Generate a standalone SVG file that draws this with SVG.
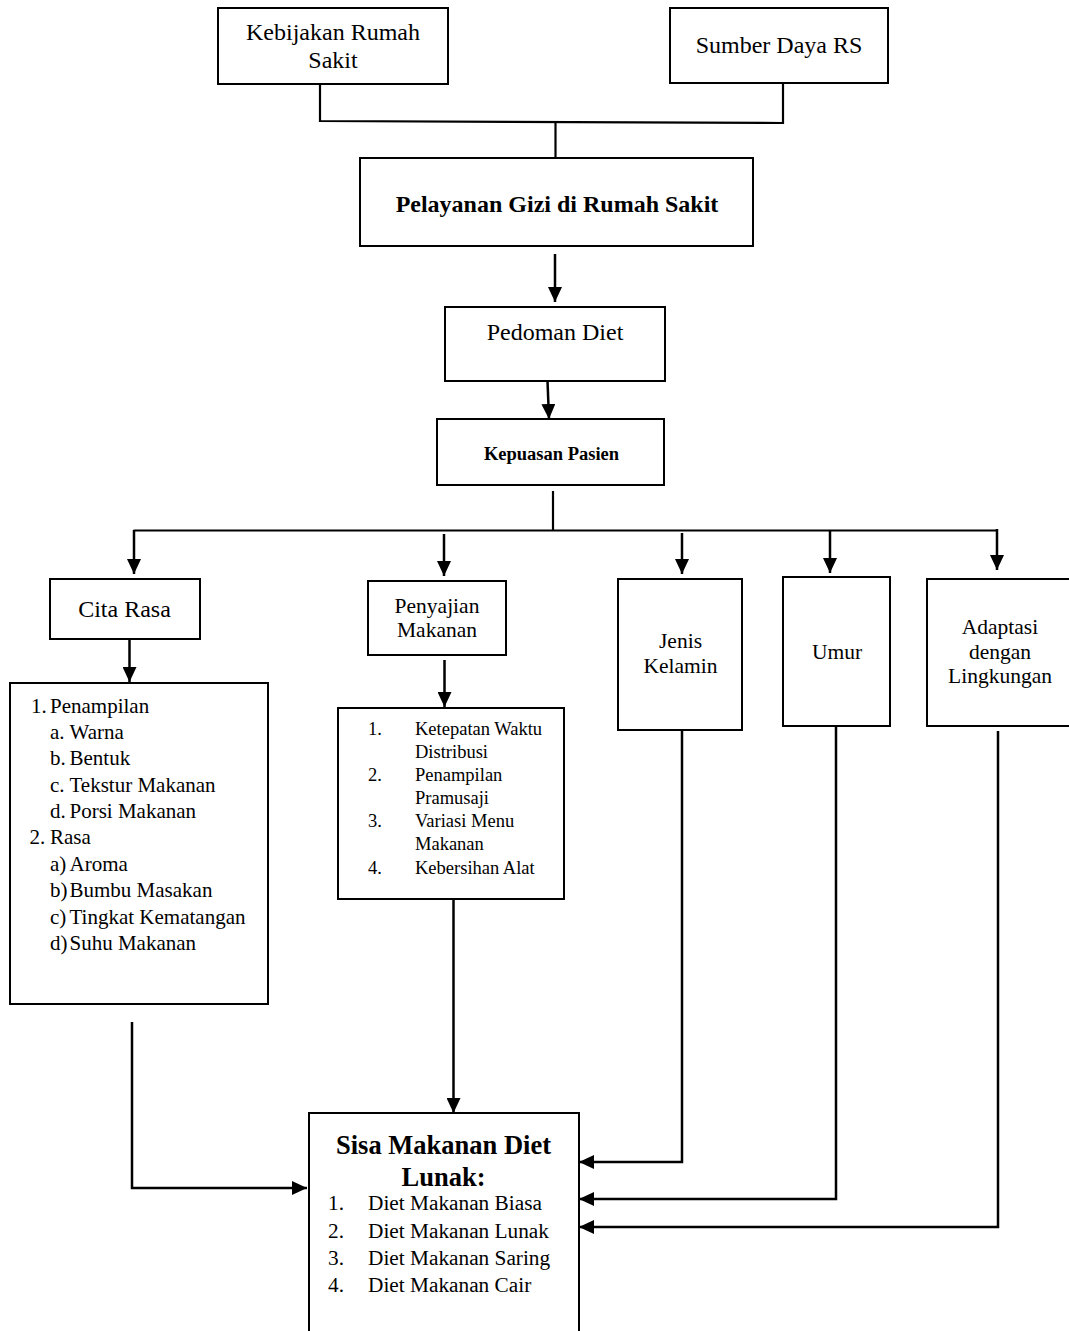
<svg xmlns="http://www.w3.org/2000/svg" width="1069" height="1331" viewBox="0 0 1069 1331">
<defs>
<style>
.box{fill:#fff;stroke:#000;stroke-width:2}
.ln{fill:none;stroke:#000;stroke-width:2.2}
.ar{fill:none;stroke:#000;stroke-width:2.5;marker-end:url(#ah)}
text{font-family:"Liberation Serif","Times New Roman",serif;fill:#000}
.c{text-anchor:middle}
.b{font-weight:bold}
</style>
<marker id="ah" viewBox="0 0 15 14" refX="15" refY="7" markerWidth="15" markerHeight="14" markerUnits="userSpaceOnUse" orient="auto">
<path d="M0,0 L15,7 L0,14 z" fill="#000"/>
</marker>
</defs>
<rect width="1069" height="1331" fill="#fff"/>

<g id="connectors">
<polyline class="ln" points="320,84 320,121 783,123 783,84"/>
<line class="ln" x1="555.5" y1="122" x2="555.5" y2="158"/>
<line class="ar" x1="555" y1="254" x2="555" y2="302"/>
<line class="ar" x1="547.5" y1="381" x2="549" y2="419"/>
<line class="ln" x1="553" y1="491" x2="553" y2="530"/>
<line class="ln" x1="133.5" y1="530.5" x2="997" y2="530.5"/>
<line class="ar" x1="134" y1="530" x2="134" y2="574"/>
<line class="ar" x1="444" y1="534" x2="444" y2="576"/>
<line class="ar" x1="682" y1="533" x2="682" y2="574"/>
<line class="ar" x1="830" y1="531" x2="830" y2="573"/>
<line class="ar" x1="997" y1="529" x2="997" y2="570"/>
<line class="ar" x1="129.5" y1="639" x2="129.5" y2="682"/>
<line class="ar" x1="444.5" y1="660" x2="444.5" y2="707"/>
<polyline class="ar" points="132,1022 132,1188 307,1188"/>
<line class="ar" x1="453.5" y1="900" x2="453.5" y2="1113"/>
<polyline class="ar" points="682,731 682,1162 579,1162"/>
<polyline class="ar" points="836,726 836,1199 579,1199"/>
<polyline class="ar" points="998,731 998,1227 579,1227"/>
</g>

<g id="kebijakan">
<rect class="box" x="218" y="8" width="230" height="76"/>
<text class="c" x="333" y="40" font-size="24">Kebijakan Rumah</text>
<text class="c" x="333" y="68" font-size="24">Sakit</text>
</g>

<g id="sumber-daya">
<rect class="box" x="670" y="8" width="218" height="75"/>
<text class="c" x="779" y="53" font-size="24">Sumber Daya RS</text>
</g>

<g id="pelayanan">
<rect class="box" x="360" y="158" width="393" height="88"/>
<text class="c b" x="557" y="212" font-size="24">Pelayanan Gizi di Rumah Sakit</text>
</g>

<g id="pedoman">
<rect class="box" x="445" y="307" width="220" height="74"/>
<text class="c" x="555" y="340" font-size="24">Pedoman Diet</text>
</g>

<g id="kepuasan">
<rect class="box" x="437" y="419" width="227" height="66"/>
<text class="c b" x="551.5" y="460" font-size="18.5">Kepuasan Pasien</text>
</g>

<g id="cita-rasa">
<rect class="box" x="50" y="579" width="150" height="60"/>
<text class="c" x="124.5" y="617" font-size="24">Cita Rasa</text>
</g>

<g id="penyajian">
<rect class="box" x="368" y="581" width="138" height="74"/>
<text class="c" x="437" y="613" font-size="21.5">Penyajian</text>
<text class="c" x="437" y="637" font-size="21.5">Makanan</text>
</g>

<g id="jenis-kelamin">
<rect class="box" x="618" y="579" width="124" height="151"/>
<text class="c" x="680.5" y="648" font-size="21.5">Jenis</text>
<text class="c" x="680.5" y="673" font-size="21.5">Kelamin</text>
</g>

<g id="umur">
<rect class="box" x="783" y="577" width="107" height="149"/>
<text class="c" x="837" y="659" font-size="21.5">Umur</text>
</g>

<g id="adaptasi">
<rect class="box" x="927" y="579" width="145" height="147"/>
<text class="c" x="1000" y="634" font-size="21.5">Adaptasi</text>
<text class="c" x="1000" y="659" font-size="21.5">dengan</text>
<text class="c" x="1000" y="683" font-size="21.5">Lingkungan</text>
</g>

<g id="cita-rasa-list" font-size="21">
<rect class="box" x="10" y="683" width="258" height="321"/>
<text x="31" y="713">1.</text><text x="50" y="713">Penampilan</text>
<text x="50" y="739">a.</text><text x="69.5" y="739">Warna</text>
<text x="50" y="765">b.</text><text x="69.5" y="765">Bentuk</text>
<text x="50" y="792">c.</text><text x="69.5" y="792">Tekstur Makanan</text>
<text x="50" y="818">d.</text><text x="69.5" y="818">Porsi Makanan</text>
<text x="29.5" y="844">2.</text><text x="50" y="844">Rasa</text>
<text x="50" y="871">a)</text><text x="69.5" y="871">Aroma</text>
<text x="50" y="897">b)</text><text x="69.5" y="897">Bumbu Masakan</text>
<text x="50" y="924">c)</text><text x="69.5" y="924">Tingkat Kematangan</text>
<text x="50" y="950">d)</text><text x="69.5" y="950">Suhu Makanan</text>
</g>

<g id="penyajian-list" font-size="18.5">
<rect class="box" x="338" y="708" width="226" height="191"/>
<text x="368" y="735">1.</text><text x="415" y="735">Ketepatan Waktu</text>
<text x="415" y="758">Distribusi</text>
<text x="368" y="781">2.</text><text x="415" y="781">Penampilan</text>
<text x="415" y="804">Pramusaji</text>
<text x="368" y="827">3.</text><text x="415" y="827">Variasi Menu</text>
<text x="415" y="850">Makanan</text>
<text x="368" y="874">4.</text><text x="415" y="874">Kebersihan Alat</text>
</g>

<g id="sisa-makanan">
<rect class="box" x="309" y="1113" width="270" height="240"/>
<text class="c b" x="443.5" y="1154" font-size="26.5">Sisa Makanan Diet</text>
<text class="c b" x="443.5" y="1186" font-size="26.5">Lunak:</text>
<g font-size="21.3">
<text x="328" y="1210">1.</text><text x="368" y="1210">Diet Makanan Biasa</text>
<text x="328" y="1238">2.</text><text x="368" y="1238">Diet Makanan Lunak</text>
<text x="328" y="1265">3.</text><text x="368" y="1265">Diet Makanan Saring</text>
<text x="328" y="1292">4.</text><text x="368" y="1292">Diet Makanan Cair</text>
</g>
</g>
</svg>
